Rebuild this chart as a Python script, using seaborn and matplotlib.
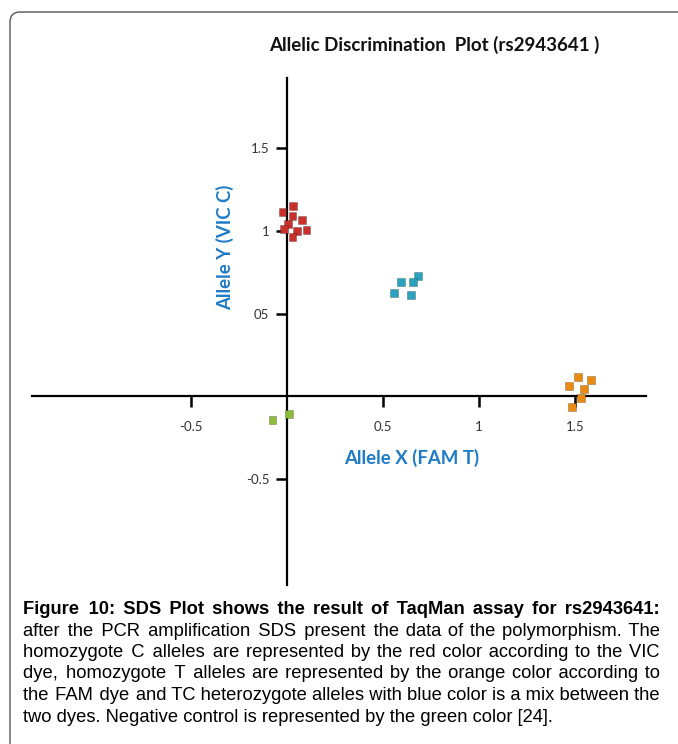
import pandas as pd
import matplotlib
matplotlib.use("Agg")
import matplotlib.pyplot as plt
import seaborn as sns
from matplotlib.patches import FancyBboxPatch

sns.set_theme(style="white")
plt.rcParams['font.family'] = ['Lato', 'DejaVu Sans']

# genotype clusters
red_x = [0.031, -0.026, 0.026, 0.078, 0.005, -0.016, 0.052, 0.099, 0.026]
red_y = [1.152, 1.115, 1.091, 1.067, 1.042, 1.012, 1.000, 1.006, 0.964]
blue_x = [0.682, 0.594, 0.656, 0.557, 0.646]
blue_y = [0.727, 0.691, 0.691, 0.624, 0.612]
orange_x = [1.516, 1.583, 1.469, 1.547, 1.531, 1.484]
orange_y = [0.115, 0.097, 0.061, 0.042, -0.012, -0.067]
green_x = [-0.078, 0.010]
green_y = [-0.145, -0.109]

groups = ["CC", "TC", "TT", "NTC"]
colors = {"CC": "#C9302C", "TC": "#2AA3BE", "TT": "#EA8A12", "NTC": "#8DBB3A"}

x_ticks = [-0.5, 0.5, 1, 1.5]
x_labels = ["-0.5", "0.5", "1", "1.5"]
y_ticks = [1.5, 1, 0.5, -0.5]
y_labels = ["1.5", "1", "05", "-0.5"]

caption_bold = "Figure 10: SDS Plot shows the result of TaqMan assay for rs2943641:"
caption_lines = [
    "after the PCR amplification SDS present the data of the polymorphism. The",
    "homozygote C alleles are represented by the red color according to the VIC",
    "dye, homozygote T alleles are represented by the orange color according to",
    "the FAM dye and TC heterozygote alleles with blue color is a mix between the",
    "two dyes. Negative control is represented by the green color [24].",
]

df = pd.concat([
    pd.DataFrame({"x": red_x, "y": red_y, "group": "CC"}),
    pd.DataFrame({"x": blue_x, "y": blue_y, "group": "TC"}),
    pd.DataFrame({"x": orange_x, "y": orange_y, "group": "TT"}),
    pd.DataFrame({"x": green_x, "y": green_y, "group": "NTC"}),
], ignore_index=True)

fig = plt.figure(figsize=(6.78, 7.44), dpi=100)
ax = fig.add_axes([32 / 678, 159 / 744, 614 / 678, 507 / 744])

sns.scatterplot(data=df, x="x", y="y", hue="group", hue_order=groups,
                palette=colors, marker="s", s=28, linewidth=0.6,
                edgecolor="#00000040", legend=False, ax=ax, zorder=3)

ax.set_xlim(-1.33, 1.87)
ax.set_ylim(-1.145, 1.927)

# axes crossing at the origin
for side in ["top", "right"]:
    ax.spines[side].set_visible(False)
for side in ["left", "bottom"]:
    ax.spines[side].set_position(("data", 0))
    ax.spines[side].set_linewidth(1.6)
    ax.spines[side].set_color("black")

ax.set_xticks(x_ticks)
ax.set_xticklabels(x_labels)
ax.set_yticks(y_ticks)
ax.set_yticklabels(y_labels)
ax.tick_params(axis="both", direction="out", length=8, width=1.8, color="black",
               labelsize=9.5, labelcolor="#333333", bottom=True, left=True)
ax.tick_params(axis="x", pad=10)
ax.tick_params(axis="y", pad=5)
ax.grid(False)

ax.set_xlabel("Allele X (FAM T)", fontsize=13.4, fontweight="bold", color="#1F7BC6", va="center")
ax.xaxis.set_label_coords(0.619, 0.2505)
ax.set_ylabel("Allele Y (VIC C)", fontsize=13.4, fontweight="bold", color="#1F7BC6", va="center")
ax.yaxis.set_label_coords(0.314, 0.667)

fig.text(434 / 678, 1 - 45 / 744, "Allelic Discrimination  Plot (rs2943641 )",
         ha="center", va="center", fontsize=13.5, fontweight="bold", color="#111111")

# frame around the figure panel
frame = FancyBboxPatch((0.10, -0.3), 7.3, 7.62, boxstyle="round,pad=0,rounding_size=0.1",
                       transform=fig.dpi_scale_trans, fill=False, edgecolor="#555555",
                       linewidth=1.0, clip_on=False)
fig.patches.append(frame)

cap_family = ["Liberation Sans", "DejaVu Sans"]
HAIR = "\u200a"

fig.canvas.draw()
renderer = fig.canvas.get_renderer()


def text_width(s, weight, size):
    t = fig.text(0, 0, s, fontsize=size, fontweight=weight, family=cap_family)
    w = t.get_window_extent(renderer).width
    t.remove()
    return w


left_px, right_px = 23, 660
target = right_px - left_px
all_lines = [(caption_bold, "bold")] + [(l, "normal") for l in caption_lines]

# largest size at which every justified line fits with normal spaces
cap_size = 13.6
while cap_size > 9:
    if all(text_width(line, weight, cap_size) <= target for line, weight in all_lines[:-1]):
        break
    cap_size -= 0.2

# justify each line by padding its spaces with hair spaces
y_px = 614
for i, (line, weight) in enumerate(all_lines):
    words = line.split(" ")
    text = line
    if i < len(all_lines) - 1:
        hair_w = text_width("a" + HAIR * 10 + "a", weight, cap_size) - text_width("aa", weight, cap_size)
        hair_w /= 10
        n_gaps = len(words) - 1
        n_hair = max(0, round((target - text_width(line, weight, cap_size)) / hair_w))
        base, rest = divmod(n_hair, n_gaps)
        parts = [words[0]]
        for k, w in enumerate(words[1:]):
            parts.append(" " + HAIR * (base + (1 if k < rest else 0)) + w)
        text = "".join(parts)
    fig.text(left_px / 678, 1 - y_px / 744, text, fontsize=cap_size, fontweight=weight,
             family=cap_family, ha="left", va="baseline", color="black")
    y_px += 21.5

fig.savefig("out.png", dpi=100)
